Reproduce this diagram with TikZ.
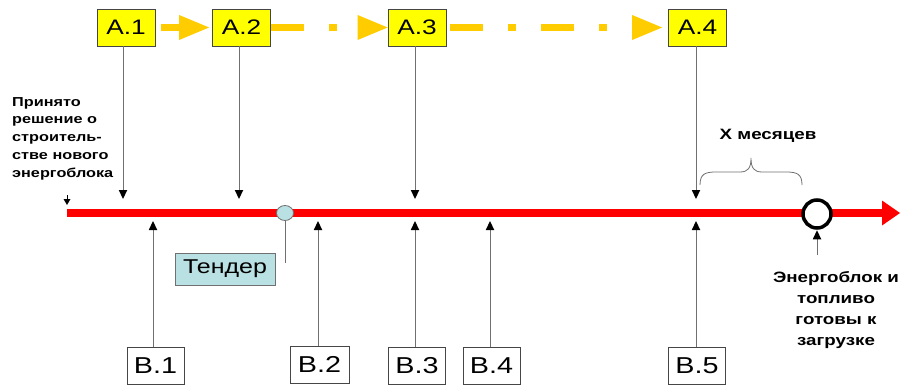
\documentclass[tikz,border=0pt]{standalone}
\usepackage{fontspec}
\setmainfont{Liberation Sans}[FakeStretch=1.25]
\usetikzlibrary{arrows.meta,shapes.geometric}
\definecolor{ygold}{RGB}{255,204,0}
\definecolor{boxyellow}{RGB}{255,255,0}
\definecolor{tenderblue}{RGB}{185,224,226}
\definecolor{linegray}{RGB}{112,112,112}
\definecolor{boxborder}{RGB}{70,70,70}
\definecolor{redline}{RGB}{255,0,0}
\tikzset{
  abox/.style={draw=boxborder, fill=boxyellow, minimum width=58pt, minimum height=37pt, inner sep=0pt, line width=0.8pt, font=\fontsize{21}{21}\selectfont},
  bbox/.style={draw=boxborder, fill=white, minimum width=57pt, minimum height=37pt, inner sep=0pt, line width=0.8pt, font=\fontsize{23}{23}\selectfont},
  conn/.style={draw=linegray, line width=0.9pt, -{Triangle[length=9pt,width=8.5pt,line width=0pt,color=black]}},
  ygo/.style={draw=ygold, line width=7pt, -{Triangle[length=30pt,width=25pt,line width=0pt]}},
  ydash/.style={ygo, dash pattern=on 33pt off 25pt on 8pt off 25pt},
  boldtxt/.style={font=\bfseries\fontsize{15}{21}\selectfont, inner sep=0pt, align=center}
}
\begin{document}
\begin{tikzpicture}[x=1pt,y=-1pt]
\useasboundingbox (0,0) rectangle (901,385);
% red time axis
\coordinate (rs) at (67,213);
\coordinate (re) at (900,213);
\draw[redline, line width=7.5pt, -{Triangle[length=18pt,width=25pt,line width=0pt]}] (rs) -- (re);
% start marker
\coordinate (s0) at (67,195);
\coordinate (s1) at (67,205);
\draw[line width=0.9pt, -{Triangle[length=6pt,width=7pt,line width=0pt]}] (s0) -- (s1);
% A boxes
\node[abox] (A1) at (126,27.5) {А.1};
\node[abox] (A2) at (241.5,27.5) {А.2};
\node[abox] (A3) at (417,27.5) {А.3};
\node[abox] (A4) at (697.5,27.5) {А.4};
\draw[ygo, shorten <=6pt, shorten >=3pt] (A1.east) -- (A2.west);
\draw[ydash] (A2.east) -- (A3.west);
\draw[ydash, shorten <=4pt, shorten >=6pt] (A3.east) -- (A4.west);
% A connectors
\coordinate (a1t) at (123,199);
\coordinate (a2t) at (239,199);
\coordinate (a3t) at (415,199);
\coordinate (a4t) at (696,199);
\draw[conn] (A1.south -| a1t) -- (a1t);
\draw[conn] (A2.south -| a2t) -- (a2t);
\draw[conn] (A3.south -| a3t) -- (a3t);
\draw[conn] (A4.south -| a4t) -- (a4t);
% B boxes
\node[bbox] (B1) at (155.5,365.5) {В.1};
\node[bbox, minimum width=59pt] (B2) at (319.5,364.5) {В.2};
\node[bbox] (B3) at (417,365.5) {В.3};
\node[bbox] (B4) at (491.5,365.5) {В.4};
\node[bbox] (B5) at (697,365.5) {В.5};
\coordinate (b1t) at (153,221);
\coordinate (b2t) at (318,221);
\coordinate (b3t) at (415,221);
\coordinate (b4t) at (490,221);
\coordinate (b5t) at (696,221);
\draw[conn] (B1.north -| b1t) -- (b1t);
\draw[conn] (B2.north -| b2t) -- (b2t);
\draw[conn] (B3.north -| b3t) -- (b3t);
\draw[conn] (B4.north -| b4t) -- (b4t);
\draw[conn] (B5.north -| b5t) -- (b5t);
% tender
\node[ellipse, draw=linegray, fill=tenderblue, minimum width=17pt, minimum height=15pt, inner sep=0pt, line width=0.8pt] (tc) at (285,213) {};
\node[draw=linegray, fill=tenderblue, minimum width=100pt, minimum height=32pt, inner sep=0pt, line width=0.8pt, font=\fontsize{20}{20}\selectfont] (T) at (225,269) {Тендер};
\coordinate (tl) at (285,263);
\draw[linegray, line width=0.9pt] (tc.south) -- (tl);
% goal circle
\node[circle, draw=black, line width=3.5pt, fill=white, minimum size=28pt, inner sep=0pt] (goal) at (817,214) {};
\coordinate (gt) at (817,255);
\draw[conn, shorten >=0.5pt] (gt) -- (goal.south);
% texts
\node[font=\bfseries\fontsize{13}{17.8}\selectfont, align=left, anchor=west, inner sep=0pt] (dec) at (12,138.5) {Принято\\решение о\\строитель-\\стве нового\\энергоблока};
\node[boldtxt] (xm) at (768,136) {Х месяцев};
\node[boldtxt] (ready) at (836,310.5) {Энергоблок и\\топливо\\готовы к\\загрузке};
% brace
\draw[linegray, line width=0.8pt] (700,185) .. controls (700,174) and (705,172) .. (716,172) -- (740,172) .. controls (748,172) and (751,168) .. (751,158) .. controls (751,168) and (754,172) .. (762,172) -- (786,172) .. controls (797,172) and (802,174) .. (802,185);
\end{tikzpicture}
\end{document}
